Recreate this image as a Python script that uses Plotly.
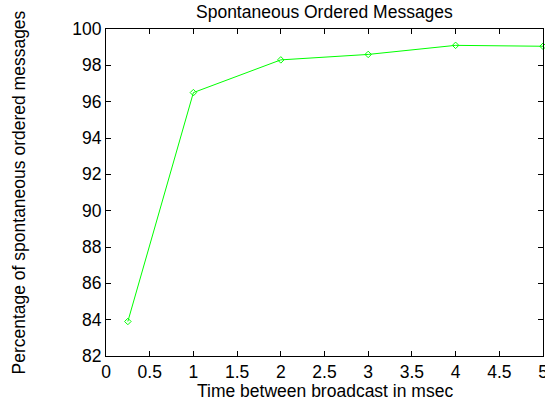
import plotly.graph_objects as go

x_vals = [0.25, 1, 2, 3, 4, 5]
y_vals = [83.9, 96.5, 98.3, 98.6, 99.1, 99.05]
x_ticks = [0, 0.5, 1, 1.5, 2, 2.5, 3, 3.5, 4, 4.5, 5]
y_ticks = [82, 84, 86, 88, 90, 92, 94, 96, 98, 100]

fig = go.Figure()
fig.add_trace(go.Scatter(
    x=x_vals, y=y_vals, mode="lines+markers",
    line=dict(color="#00ff00", width=1),
    marker=dict(symbol="diamond-open", size=5, color="#00ff00", line=dict(width=1, color="#00ff00")),
    cliponaxis=False, showlegend=False,
))

font = dict(family="Liberation Sans, Arial, sans-serif", size=17.5, color="black")
axis_common = dict(
    showline=True, linecolor="black", linewidth=1, mirror="ticks",
    ticks="inside", ticklen=5, tickcolor="black", tickwidth=1,
    showgrid=False, zeroline=False, tickfont=font, automargin=False,
    ticklabeloverflow="allow",
)
fig.update_layout(
    width=545, height=402,
    margin=dict(l=106, r=2, t=29, b=46, autoexpand=False),
    paper_bgcolor="white", plot_bgcolor="white",
    xaxis=dict(range=[0, 5], tickvals=x_ticks, ticktext=[f"{v:g}" for v in x_ticks], **axis_common),
    yaxis=dict(range=[82, 100], tickvals=y_ticks, ticktext=[str(v) for v in y_ticks], **axis_common),
    annotations=[
        dict(text="Spontaneous Ordered Messages", xref="paper", yref="paper", x=0.5, y=1,
             yshift=17, xanchor="center", yanchor="middle", showarrow=False, font=font),
        dict(text="Time between broadcast in msec", xref="paper", yref="paper", x=0.5, y=0,
             yshift=-35, xanchor="center", yanchor="middle", showarrow=False, font=font),
        dict(text="Percentage of spontaneous ordered messages", xref="paper", yref="paper", x=0,
             y=0.5, xshift=-88, xanchor="center", yanchor="middle", textangle=-90,
             showarrow=False, font=font),
    ],
)
fig.write_html("out.html", config={"displayModeBar": False},
               post_script="document.body.style.margin='0';")
